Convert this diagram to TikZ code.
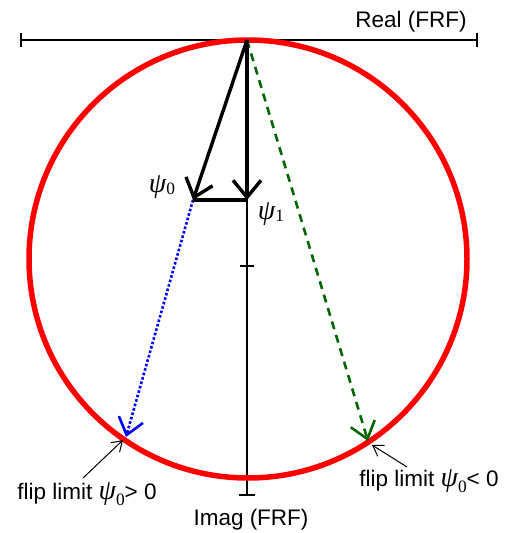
\documentclass[tikz,border=0pt]{standalone}
\usepackage{fontspec}
\setmainfont{Liberation Sans}
\newfontfamily\psifont{Liberation Serif}
\newcommand{\mypsi}[2]{{\fontsize{#2}{#2}\psifont\itshape ψ}\raisebox{-0.25em}{\fontsize{0.62\dimexpr#2pt\relax}{1}\psifont #1}}
\usetikzlibrary{arrows.meta}
\tikzset{
  axisline/.style={line width=2.4pt,black},
  vecarrow/.style={line width=3.4pt,black,-{Straight Barb[length=17pt,width=28pt,line width=3.4pt]}},
  bluevec/.style={line width=2.6pt,blue,dotted,-{Straight Barb[length=16pt,width=25pt,line width=2.6pt]}},
  greenvec/.style={line width=2.6pt,green!40!black,dash pattern=on 8pt off 6pt,-{Straight Barb[length=16pt,width=25pt,line width=2.6pt]}},
  pointer/.style={line width=1pt,black,-{Straight Barb[length=10pt,width=13pt,line width=1pt]}},
  lbl/.style={inner sep=0pt,font=\fontsize{22.5}{24}\selectfont},
}
\begin{document}
\begin{tikzpicture}[x=1pt,y=-1pt]
\useasboundingbox (0,0) rectangle (509,533);
% axes
\coordinate (O) at (247,40);
\coordinate (RL) at (21,40);
\coordinate (RR) at (477,40);
\coordinate (IB) at (247,495);
\coordinate (IM) at (247,266);
\draw[axisline] (RL) -- (RR);
\draw[axisline] ([yshift=-7pt]RL) -- ([yshift=7pt]RL);
\draw[axisline] ([yshift=-7pt]RR) -- ([yshift=7pt]RR);
\draw[axisline] (O) -- (IB);
\draw[axisline] ([xshift=-8pt]IB) -- ([xshift=8pt]IB);
\draw[axisline] ([xshift=-7pt]IM) -- ([xshift=7pt]IM);
% circle
\coordinate (C) at (248,259);
\draw[red,line width=5.5pt] (C) circle[radius=219pt];
% vectors
\coordinate (P0) at (193,200);
\coordinate (P1) at (247,200);
\coordinate (B) at (126,437);
\coordinate (G) at (368,441);
\draw[bluevec] (P0) -- (B);
\draw[greenvec] (O) -- (G);
\draw[vecarrow] (O) -- (P0);
\draw[vecarrow] (O) -- (P1);
\draw[line width=3.4pt] (P0) -- (P1);
% labels
\node[lbl] (real) at (411,22) {Real (FRF)};
\node[lbl] (imag) at (251,520) {Imag (FRF)};
\node[inner sep=0pt] (psi0) at (162,187) {\mypsi{0}{28}};
\node[inner sep=0pt] (psi1) at (271,214) {\mypsi{1}{28}};
\node[lbl] (fl0) at (87,494) {flip limit \mypsi{0}{28}> 0};
\node[lbl] (fl1) at (429,481) {flip limit \mypsi{0}{28}< 0};
\coordinate (a0) at (83,478);
\coordinate (a1) at (407,467);
\draw[pointer] (a0) -- (123,440);
\draw[pointer] (a1) -- (372,445);
\end{tikzpicture}
\end{document}
